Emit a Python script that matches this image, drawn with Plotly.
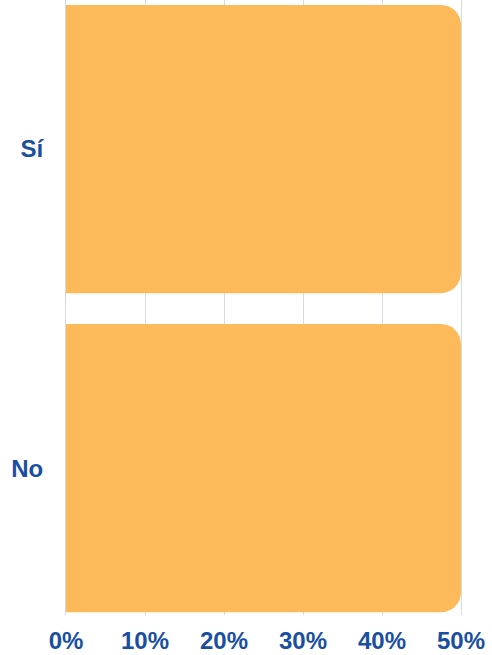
import plotly.graph_objects as go

categorias = ["Sí", "No"]
porcentajes = [50, 50]
ticks_x = [0, 10, 20, 30, 40, 50]
etiquetas_x = ["0%", "10%", "20%", "30%", "40%", "50%"]

azul = "#1a4f9f"
naranja = "#fdba5a"
rejilla = "#d5dbe6"

fig = go.Figure(go.Bar(
    x=porcentajes, y=categorias, orientation="h",
    marker=dict(color=naranja, line=dict(width=0)),
))

fig.update_layout(
    width=492, height=655,
    margin=dict(l=66, r=31, t=0, b=40),
    paper_bgcolor="white", plot_bgcolor="white",
    bargap=0.097, barcornerradius=20,
    showlegend=False,
    font=dict(family="Liberation Sans, Arial, sans-serif", color=azul),
    xaxis=dict(range=[0, 50], tickvals=ticks_x, ticktext=etiquetas_x,
               showgrid=True, gridcolor=rejilla, gridwidth=1, zeroline=False,
               tickfont=dict(size=24, color=azul, weight="bold"),
               ticklabelstandoff=9, fixedrange=True),
    yaxis=dict(type="category", categoryorder="array", categoryarray=categorias,
               range=[1.46, -0.467], showgrid=False, zeroline=False,
               showline=True, mirror=True, linecolor=rejilla, linewidth=1,
               tickfont=dict(size=24, color=azul, weight="bold"),
               ticklabelstandoff=17),
)

# quitar el margen del body para que la figura ocupe toda la ventana
fig.write_html("out.html", config={"displayModeBar": False},
               post_script="document.body.style.margin='0';")
